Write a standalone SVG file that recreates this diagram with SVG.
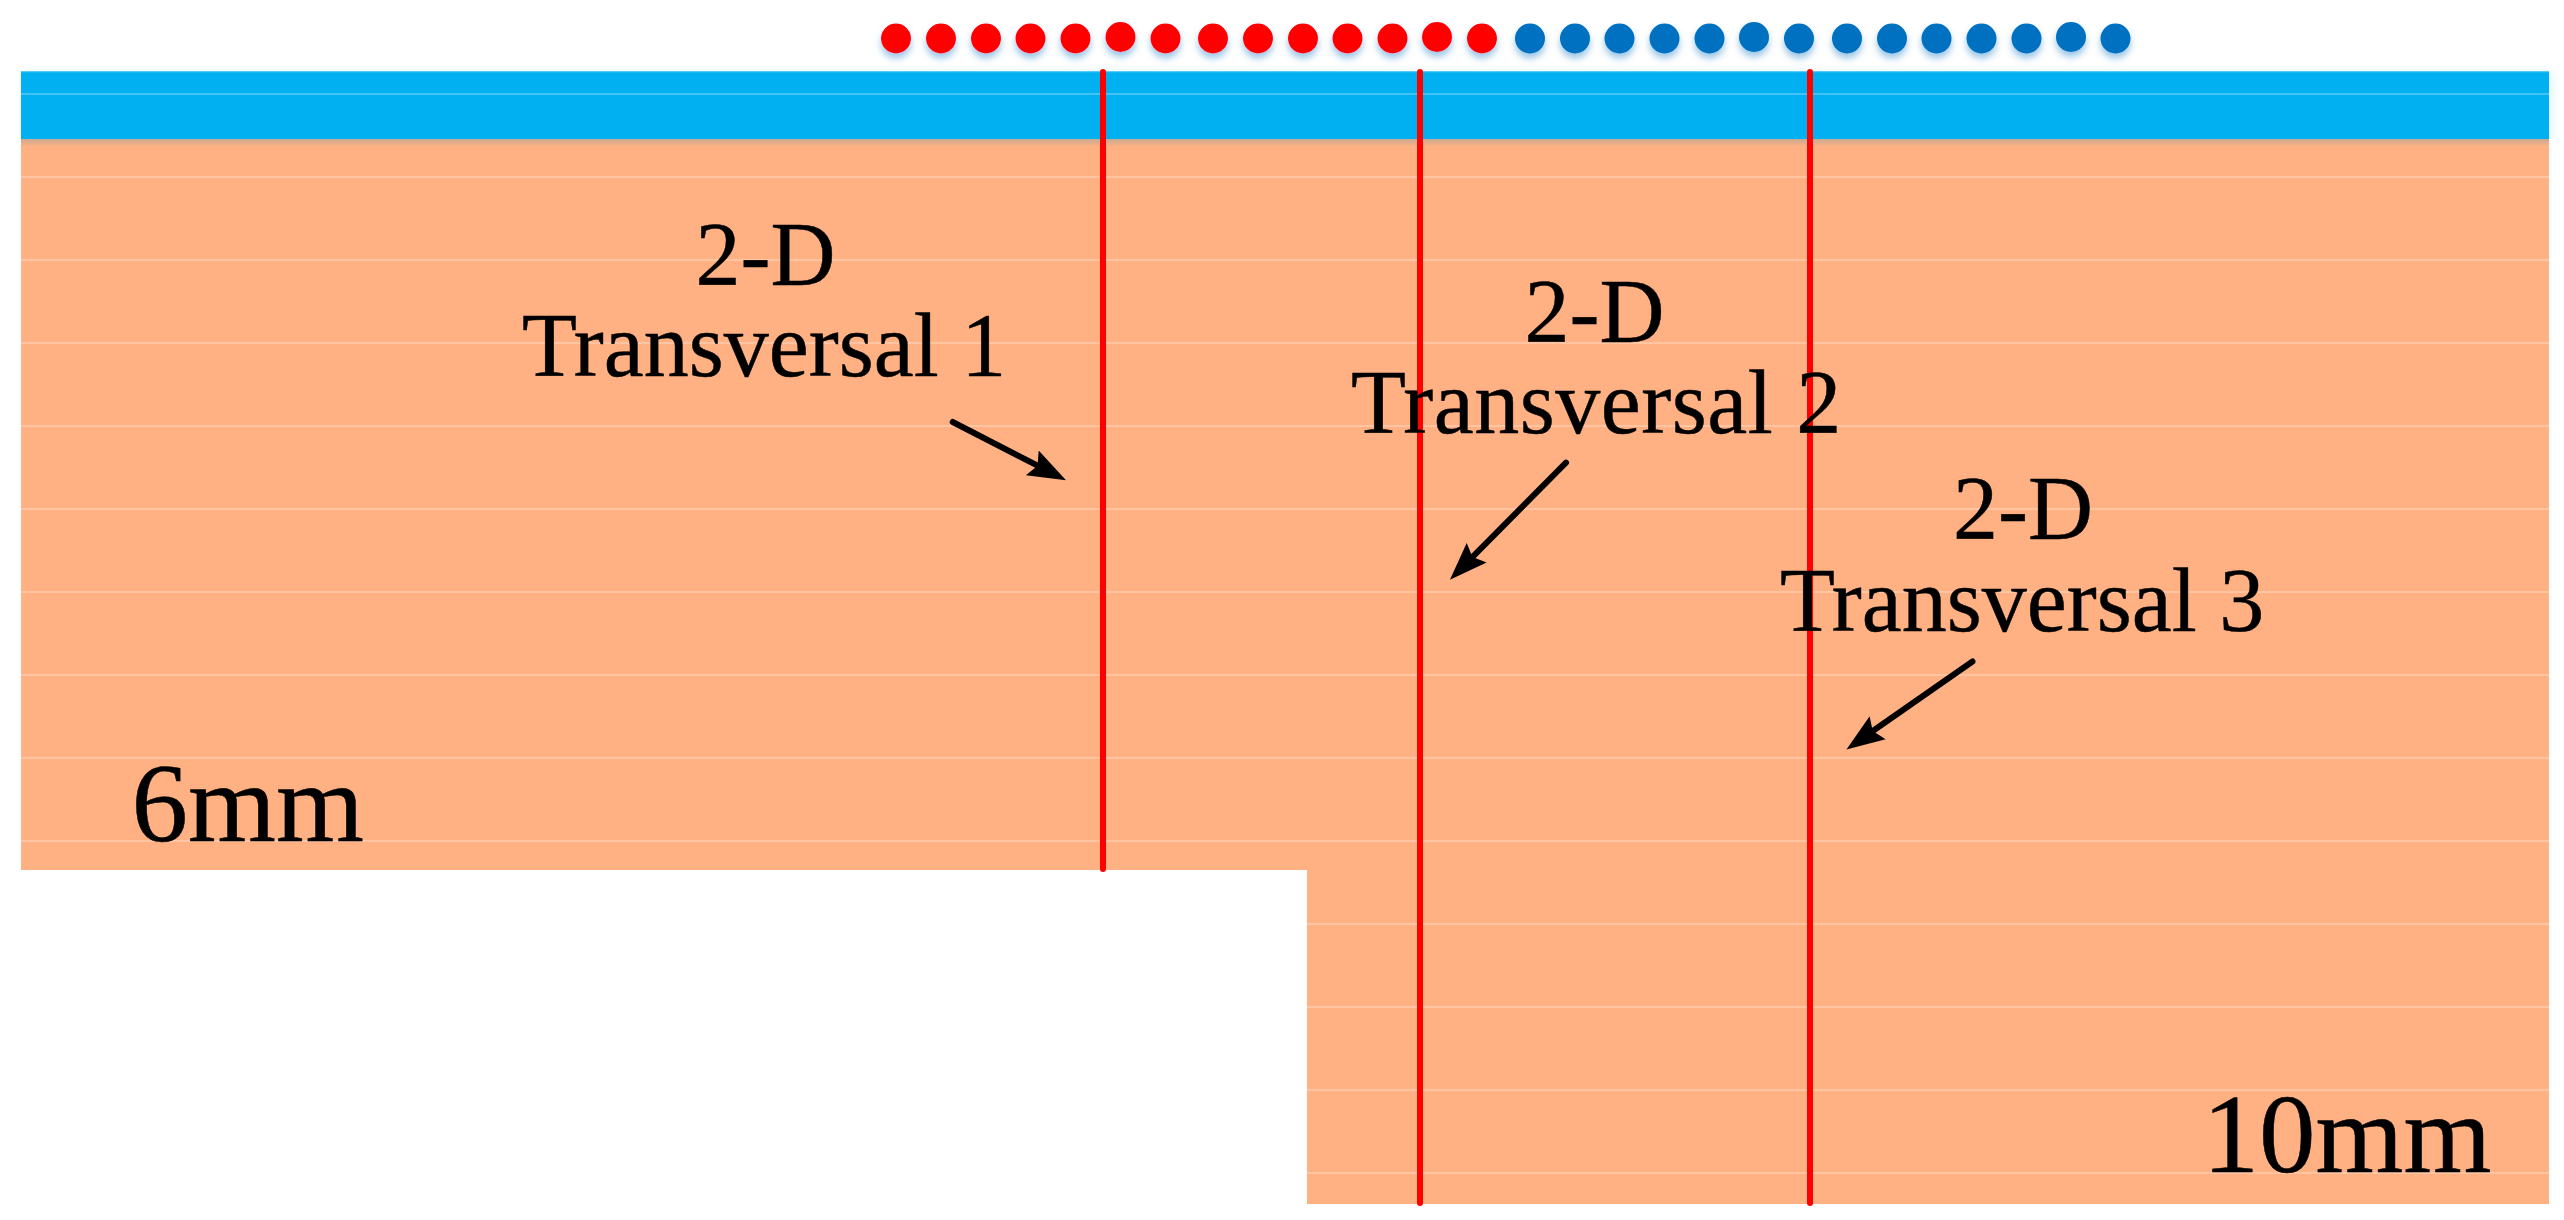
<svg xmlns="http://www.w3.org/2000/svg" width="2564" height="1220" viewBox="0 0 2564 1220">
<style>
.t{font-family:"Liberation Serif","Times New Roman",serif;fill:#000;stroke:#000;stroke-width:.5}
.l{font-size:90px}
.m{font-size:113px}
.g{stroke:#fff;stroke-opacity:.35;stroke-width:1.5;fill:none}
.r{stroke:#f00;stroke-width:6;stroke-linecap:round;fill:none}
.a{stroke:#000;stroke-width:6;stroke-linecap:round;fill:none;marker-end:url(#h)}
.red{fill:#f00;filter:url(#s)}
.blu{fill:#0070c0;filter:url(#s)}
</style>
<defs>
<marker id="h" markerUnits="userSpaceOnUse" markerWidth="42" markerHeight="32" refX="16" refY="15" orient="auto"><polygon points="0,1 38,15 0,29 6,15" fill="#000"/></marker>
<filter id="s" x="-50%" y="-50%" width="200%" height="220%"><feDropShadow dx="0" dy="5" stdDeviation="3.5" flood-color="#0070c0" flood-opacity=".4"/></filter>
<filter id="b" x="-1%" y="-10%" width="102%" height="120%"><feDropShadow dx="4" dy="0" stdDeviation="4" flood-color="#00b0f0" flood-opacity=".12"/></filter>
<linearGradient id="e" x1="0" y1="0" x2="0" y2="1"><stop offset="0" stop-color="#d2a98f"/><stop offset="1" stop-color="#ffb183"/></linearGradient>
</defs>
<rect width="2564" height="1220" fill="#fff"/>
<g id="substrate">
<polygon points="21,139 2549,139 2549,1204 1307,1204 1307,870 21,870" fill="#ffb183"/>
<rect x="21" y="139" width="2528" height="8" fill="url(#e)"/>
<path class="g" d="M21 177H2549M21 260H2549M21 343H2549M21 426H2549M21 509H2549M21 592H2549M21 675H2549M21 758H2549M21 841H2549M1307 924H2549M1307 1007H2549M1307 1090H2549M1307 1173H2549"/>
</g>
<g id="top-layer">
<rect x="21" y="71" width="2528" height="68" fill="#00b0f0" filter="url(#b)"/>
<path class="g" d="M21 94H2549M21 71.5H2549"/>
</g>
<g id="red-dots">
<circle class="red" cx="896" cy="38.5" r="15"/><circle class="red" cx="941" cy="38.5" r="15"/><circle class="red" cx="986" cy="38.5" r="15"/><circle class="red" cx="1030.5" cy="38.5" r="15"/><circle class="red" cx="1075.5" cy="38.5" r="15"/><circle class="red" cx="1120.5" cy="37" r="15"/><circle class="red" cx="1165.5" cy="38.5" r="15"/><circle class="red" cx="1213" cy="38.5" r="15"/><circle class="red" cx="1258" cy="38.5" r="15"/><circle class="red" cx="1303" cy="38.5" r="15"/><circle class="red" cx="1347.5" cy="38.5" r="15"/><circle class="red" cx="1392.5" cy="38.5" r="15"/><circle class="red" cx="1437" cy="37" r="15"/><circle class="red" cx="1482" cy="38.5" r="15"/>
</g>
<g id="blue-dots">
<circle class="blu" cx="1530" cy="38.5" r="15"/><circle class="blu" cx="1575" cy="38.5" r="15"/><circle class="blu" cx="1619.5" cy="38.5" r="15"/><circle class="blu" cx="1664.5" cy="38.5" r="15"/><circle class="blu" cx="1709.5" cy="38.5" r="15"/><circle class="blu" cx="1754" cy="37" r="15"/><circle class="blu" cx="1799" cy="38.5" r="15"/><circle class="blu" cx="1847" cy="38.5" r="15"/><circle class="blu" cx="1892" cy="38.5" r="15"/><circle class="blu" cx="1936.5" cy="38.5" r="15"/><circle class="blu" cx="1981.5" cy="38.5" r="15"/><circle class="blu" cx="2026.5" cy="38.5" r="15"/><circle class="blu" cx="2071" cy="37" r="15"/><circle class="blu" cx="2115.5" cy="38.5" r="15"/>
</g>
<g id="section-lines">
<path class="r" d="M1103 72V869"/>
<path class="r" d="M1420 72V1203"/>
<path class="r" d="M1810 72V1203"/>
</g>
<g id="connectors">
<path class="a" d="M952.7 422L1046.5 470.2"/>
<path class="a" d="M1566 462.7L1465.4 564.1"/>
<path class="a" d="M1972.5 661.5L1864.5 736.8"/>
</g>
<g id="label-1"><text class="t l" x="695.5" y="285">2-D</text><text class="t l" x="522" y="376">Transversal 1</text></g>
<g id="label-2"><text class="t l" x="1524.5" y="342">2-D</text><text class="t l" x="1351" y="433" letter-spacing=".5">Transversal 2</text></g>
<g id="label-3"><text class="t l" x="1953" y="539">2-D</text><text class="t l" x="1780" y="631">Transversal 3</text></g>
<g id="label-6mm"><text class="t m" x="131.5" y="841">6mm</text></g>
<g id="label-10mm"><text class="t m" x="2202.5" y="1172">10mm</text></g>
</svg>
